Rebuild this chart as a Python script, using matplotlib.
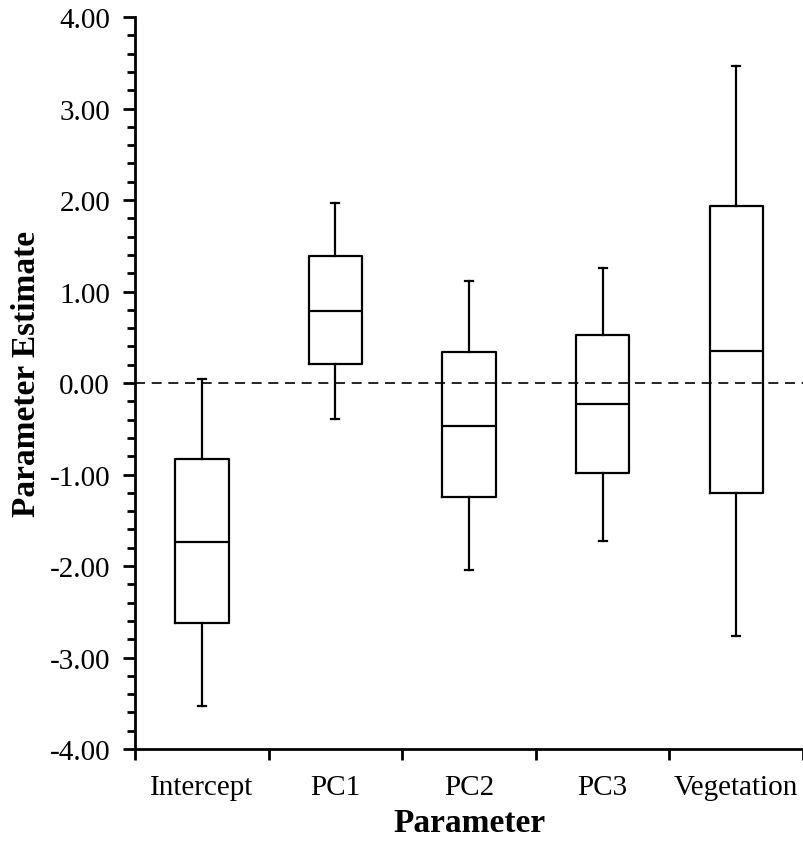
import matplotlib.pyplot as plt
from matplotlib.ticker import MultipleLocator, FixedLocator, NullFormatter

plt.rcParams['font.family'] = ['Liberation Serif', 'DejaVu Serif']

params = ['Intercept', 'PC1', 'PC2', 'PC3', 'Vegetation']
whisker_lo = [-3.53, -0.39, -2.04, -1.73, -2.77]
q1 = [-2.62, 0.21, -1.25, -0.98, -1.20]
median = [-1.74, 0.79, -0.47, -0.23, 0.35]
q3 = [-0.83, 1.39, 0.34, 0.53, 1.93]
whisker_hi = [0.04, 1.97, 1.11, 1.26, 3.46]

stats = []
for name, lo, a, m, b, hi in zip(params, whisker_lo, q1, median, q3, whisker_hi):
    stats.append(dict(label=name, whislo=lo, q1=a, med=m, q3=b, whishi=hi, fliers=[]))

fig = plt.figure(figsize=(8.04, 8.45), dpi=100)
ax = fig.add_axes([0.168, 0.1124, 0.8308, 0.8663])

lw = 1.6
positions = list(range(1, len(params) + 1))
ax.bxp(stats, positions=positions, widths=0.4, showfliers=False,
       boxprops=dict(color='black', linewidth=lw),
       medianprops=dict(color='black', linewidth=lw),
       whiskerprops=dict(color='black', linewidth=lw),
       capprops=dict(color='black', linewidth=lw),
       capwidths=0.06)

ax.axhline(0, color='black', linestyle=(0, (6, 4)), linewidth=1.2, zorder=0)

ax.set_xlim(0.5, 5.5)
ax.set_ylim(-4, 4)

# y axis: labelled every 1.00, minor ticks every 0.20
ax.yaxis.set_major_locator(MultipleLocator(1))
ax.yaxis.set_minor_locator(MultipleLocator(0.2))
ax.yaxis.set_major_formatter(plt.FuncFormatter(lambda v, p: f'{v:.2f}'))
ax.tick_params(axis='y', which='major', length=9, width=2, labelsize=21,
               direction='out', pad=9)
ax.tick_params(axis='y', which='minor', length=6, width=2, direction='out')

# x axis: tick marks between categories, labels centred under boxes
ax.xaxis.set_major_locator(FixedLocator([p - 0.5 for p in positions] + [5.5]))
ax.xaxis.set_major_formatter(NullFormatter())
ax.xaxis.set_minor_locator(FixedLocator(positions))
ax.set_xticklabels(params, minor=True)
ax.tick_params(axis='x', which='major', length=8, width=2, direction='out')
ax.tick_params(axis='x', which='minor', length=0, labelsize=21, pad=18)

for side in ('top', 'right'):
    ax.spines[side].set_visible(False)
for side in ('left', 'bottom'):
    ax.spines[side].set_linewidth(2)

ax.set_xlabel('Parameter', fontsize=24, fontweight='bold', labelpad=5)
ax.set_ylabel('Parameter Estimate', fontsize=24, fontweight='bold')
ax.yaxis.set_label_coords(-0.14, 0.514)

fig.savefig('out.png', dpi=100)
